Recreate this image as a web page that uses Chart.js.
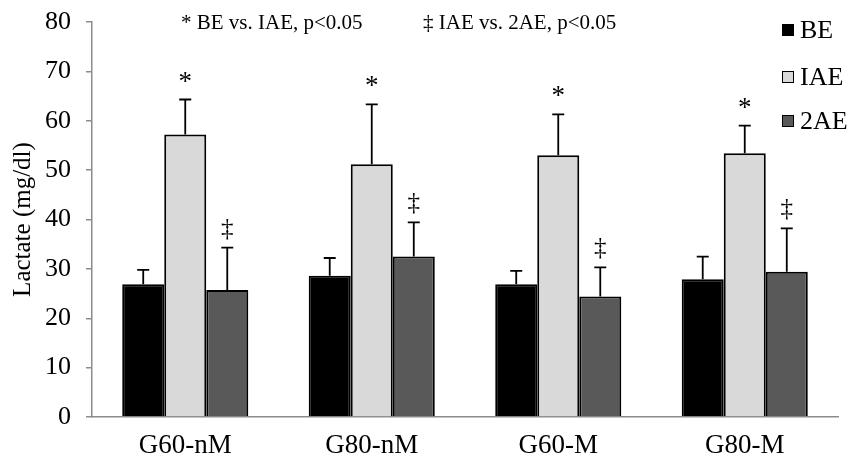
<!DOCTYPE html>
<html>
<head>
<meta charset="utf-8">
<script src="https://cdn.jsdelivr.net/npm/chart.js@4"></script>
<style>
html,body{margin:0;padding:0;background:#fff;}
#wrap{width:850px;height:459px;position:relative;}
</style>
</head>
<body>
<div id="wrap"><canvas id="c"></canvas></div>
<script>
const categories = ['G60-nM', 'G80-nM', 'G60-M', 'G80-M'];
const seriesNames = ['BE', 'IAE', '2AE'];
const beValues = [26.9, 28.6, 26.9, 27.9];
const beSD = [2.9, 3.6, 2.7, 4.6];
const iaeValues = [57.2, 51.2, 53.0, 53.4];
const iaeSD = [7.1, 12.1, 8.3, 5.6];
const aeValues = [25.7, 32.5, 24.4, 29.4];
const aeSD = [8.6, 6.9, 5.9, 8.8];
const yTicks = [0, 10, 20, 30, 40, 50, 60, 70, 80];
const starMarks = [true, true, true, true];     // above IAE bars
const daggerMarks = [true, true, true, true];   // above 2AE bars
const noteTexts = ['* BE vs. IAE, p<0.05', '\u2021 IAE vs. 2AE, p<0.05'];
const yTitle = 'Lactate (mg/dl)';

const colors = ['#000000', '#d9d9d9', '#595959'];
const sds = [beSD, iaeSD, aeSD];
const FONT = '"Liberation Serif", "Times New Roman", serif';

const overlay = {
  id: 'overlay',
  afterDatasetsDraw(chart) {
    const ctx = chart.ctx;
    const y = chart.scales.y;
    ctx.save();
    chart.data.datasets.forEach((ds, di) => {
      const meta = chart.getDatasetMeta(di);
      meta.data.forEach((el, i) => {
        const top = y.getPixelForValue(ds.data[i] + sds[di][i]);
        ctx.strokeStyle = '#000';
        ctx.lineWidth = 1.8;
        ctx.beginPath();
        ctx.moveTo(el.x, el.y);
        ctx.lineTo(el.x, top);
        ctx.moveTo(el.x - 6, top);
        ctx.lineTo(el.x + 6, top);
        ctx.stroke();
        ctx.fillStyle = '#000';
        ctx.textAlign = 'center';
        ctx.textBaseline = 'alphabetic';
        if (di === 1 && starMarks[i]) {
          ctx.font = '27px ' + FONT;
          ctx.fillText('*', el.x, top - 10);
        }
        if (di === 2 && daggerMarks[i]) {
          ctx.font = '25px ' + FONT;
          ctx.fillText('\u2021', el.x, top - 12);
        }
      });
    });
    ctx.fillStyle = '#000';
    ctx.textAlign = 'left';
    ctx.textBaseline = 'alphabetic';
    ctx.font = '21px ' + FONT;
    ctx.fillText(noteTexts[0], 181, 29);
    ctx.fillText(noteTexts[1], 423, 29);
    const ly = [30, 77, 121];
    ctx.font = '26px ' + FONT;
    ctx.textBaseline = 'middle';
    seriesNames.forEach((n, i) => {
      ctx.fillStyle = colors[i];
      ctx.fillRect(782, ly[i] - 6, 12, 12);
      ctx.strokeStyle = '#000';
      ctx.lineWidth = 1;
      ctx.strokeRect(782.5, ly[i] - 5.5, 11, 11);
      ctx.fillStyle = '#000';
      ctx.fillText(n, 800, ly[i] + 1);
    });
    ctx.restore();
  }
};

new Chart(document.getElementById('c'), {
  type: 'bar',
  data: {
    labels: categories,
    datasets: [
      { label: seriesNames[0], data: beValues, backgroundColor: colors[0], borderColor: '#000', borderWidth: 2 },
      { label: seriesNames[1], data: iaeValues, backgroundColor: colors[1], borderColor: '#000', borderWidth: 2 },
      { label: seriesNames[2], data: aeValues, backgroundColor: colors[2], borderColor: '#000', borderWidth: 2 }
    ]
  },
  options: {
    responsive: true,
    maintainAspectRatio: false,
    animation: false,
    layout: { padding: { top: 22, right: 12, left: 0, bottom: 0 } },
    datasets: { bar: { categoryPercentage: 0.676, barPercentage: 1.0 } },
    plugins: { legend: { display: false }, tooltip: { enabled: false } },
    scales: {
      x: {
        grid: { display: false, drawTicks: false },
        border: { color: '#8c8c8c', width: 1.5 },
        ticks: { color: '#000', font: { family: FONT, size: 27 }, padding: 13 },
        afterFit(s) { s.height = 42; s.paddingLeft = 0; s.paddingRight = 0; }
      },
      y: {
        min: 0, max: 80,
        afterBuildTicks(s) { s.ticks = yTicks.map(v => ({ value: v })); },
        grid: { drawOnChartArea: false, color: '#8c8c8c', tickLength: 6, lineWidth: 1.5 },
        border: { color: '#8c8c8c', width: 1.5 },
        ticks: { color: '#000', font: { family: FONT, size: 26 }, padding: 15 },
        title: { display: true, text: yTitle, color: '#000', font: { family: FONT, size: 25 }, padding: { top: 8, bottom: 0 } },
        afterFit(s) { s.width = 92; s.paddingTop = 0; s.paddingBottom = 0; }
      }
    }
  },
  plugins: [overlay]
});
</script>
</body>
</html>
